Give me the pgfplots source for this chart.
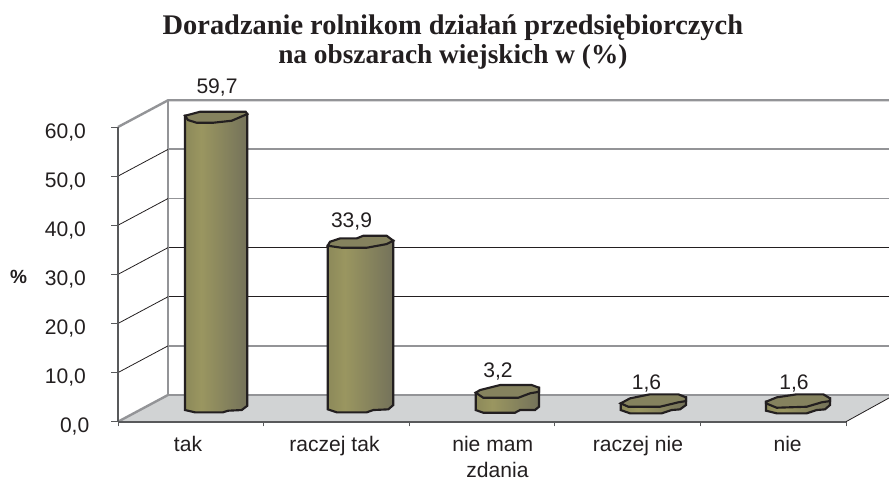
\documentclass[border=0pt]{standalone}
\usepackage{pgfplots}
\pgfplotsset{compat=1.18}
\usepackage{fontspec}
\setmainfont{Liberation Sans}
\newfontfamily\titlefont{Liberation Serif}
\definecolor{ink}{HTML}{231F20}
\definecolor{wallgray}{HTML}{939497}
\definecolor{floorgray}{HTML}{D1D3D4}
\definecolor{axisgray}{HTML}{58595B}
\definecolor{barA}{HTML}{8C895A}
\definecolor{barB}{HTML}{9A9660}
\definecolor{barC}{HTML}{74725A}
\definecolor{capfill}{HTML}{85825E}
\pgfdeclarehorizontalshading{barshade}{100bp}{color(0bp)=(barA);color(25bp)=(barA);color(38bp)=(barB);color(75bp)=(barC);color(100bp)=(barC)}
\begin{document}
\begin{tikzpicture}
\useasboundingbox (0,0) rectangle (666.75pt,360pt);
\begin{axis}[
  at={(88.5pt,43.725pt)}, anchor=south west,
  scale only axis, width=546pt, height=221.025pt,
  xmin=118, xmax=846, ymin=0, ymax=60,
  clip=false, axis on top,
  axis x line*=bottom, axis y line*=left,
  axis line style={draw=axisgray, line width=1pt},
  x axis line style={draw=axisgray, line width=1.5pt},
  y axis line style={draw=axisgray, line width=1.1pt},
  tick align=outside,
  xtick={188,334.5,492.7,638,787.6},
  xticklabels={tak,raczej tak,{nie mam\\\hspace*{7.2pt}zdania},raczej nie,nie},
  minor xtick={118,263.6,409.2,554.8,700.4,846},
  major x tick style={draw=none},
  minor tick length=3.5pt,
  minor x tick style={draw=axisgray, line width=0.7pt},
  ytick={0,10,...,60},
  yticklabels={{0,0\hspace*{-2.5pt}},{10,0},{20,0},{30,0},{40,0},{50,0},{60,0}},
  major tick length=5pt,
  y tick style={draw=axisgray, line width=0.7pt},
  tick label style={font=\fontsize{15.8}{19.4}\selectfont, text=ink},
  xticklabel style={align=center, yshift=-5.6pt, anchor=north, inner ysep=0pt},
  yticklabel style={xshift=-15.5pt, yshift=-3.9pt},
  ylabel={\textbf{\%}},
  ylabel style={rotate=-90, at={(axis description cs:-0.1367,0.491)}, anchor=center,
    font=\fontsize{14.3}{15}\selectfont, text=ink},
  title={Doradzanie rolnikom działań przedsiębiorczych\\[0.45pt]{\fontsize{20.5}{21}\selectfont na obszarach wiejskich w (\%)}},
  title style={at={(axis description cs:0.460,1.261)}, anchor=center, align=center,
    font=\titlefont\bfseries\fontsize{21.3}{21.3}\selectfont, text=ink},
]
% floor
\addplot[fill=floorgray, draw=none] coordinates {(118,0)(168,5.44)(889,5.44)(889,4.83)(846,0)} --cycle;
% back wall gridlines
\addplot[draw=wallgray, line width=1.7pt] coordinates {(168,15.44)(889,15.44)};
\addplot[draw=ink, line width=0.6pt] coordinates {(168,25.44)(889,25.44)};
\addplot[draw=ink, line width=0.6pt] coordinates {(168,35.44)(889,35.44)};
\addplot[draw=wallgray, line width=1.4pt] coordinates {(168,45.44)(889,45.44)};
\addplot[draw=wallgray, line width=1.6pt] coordinates {(168,55.44)(889,55.44)};
\addplot[draw=wallgray, line width=1.8pt] coordinates {(118,60)(168,65.44)(889,65.44)};
\addplot[draw=wallgray, line width=1.8pt] coordinates {(168,65.44)(168,5.44)(889,5.44)};
\addplot[draw=wallgray, line width=1.8pt] coordinates {(118,0)(168,5.44)};
% side wall
\addplot[draw=ink, line width=0.6pt] coordinates {(118,10)(168,15.44)};
\addplot[draw=ink, line width=0.6pt] coordinates {(118,20)(168,25.44)};
\addplot[draw=ink, line width=0.6pt] coordinates {(118,30)(168,35.44)};
\addplot[draw=ink, line width=0.6pt] coordinates {(118,40)(168,45.44)};
\addplot[draw=ink, line width=0.6pt] coordinates {(118,50)(168,55.44)};
\addplot[draw=ink, line width=0.6pt] coordinates {(846,0)(889,4.83)};
% bars, drawn on the floor's middle line
\begin{scope}[yshift=4.45pt]
\addplot[shade, shading=barshade, draw=ink, line width=1.6pt] coordinates {(185,59.87)(185,-0.04)(195,-0.51)(223,-0.51)(228,-0.18)(241.7,-0.04)(247.3,0.83)(247.3,60.22)} --cycle;
\addplot[fill=capfill, draw=ink, line width=1.6pt] coordinates {(185,59.87)(200,60.69)(245.7,60.69)(247.3,60.22)(231.7,58.86)(213,58.45)(196.7,58.45)(188,59.0)} --cycle;
\addplot[shade, shading=barshade, draw=ink, line width=1.6pt] coordinates {(327.7,33.41)(327.7,0.1)(336.7,-0.51)(366.7,-0.51)(373.3,-0.04)(388.3,0.1)(393.3,0.98)(393.3,34.43)} --cycle;
\addplot[fill=capfill, draw=ink, line width=1.6pt] coordinates {(327.7,33.41)(330,34.22)(340,34.91)(356.7,34.91)(363.3,35.44)(386.7,35.44)(393.3,34.43)(386.7,33.75)(366.7,33.0)(341.7,33.0)} --cycle;
\addplot[shade, shading=barshade, draw=ink, line width=1.6pt] coordinates {(475.7,3.48)(475.7,-0.04)(483.3,-0.59)(515,-0.59)(520,-0.04)(535,-0.04)(539,0.63)(539,4.5)} --cycle;
\addplot[fill=capfill, draw=ink, line width=1.6pt] coordinates {(475.7,3.48)(480,4.03)(500,5.05)(531.7,5.05)(539,4.5)(539,3.68)(530,3.36)(518.3,2.46)(483.3,2.46)} --cycle;
\addplot[shade, shading=barshade, draw=ink, line width=1.6pt] coordinates {(620.7,1.32)(620.7,-0.04)(630,-0.71)(661.7,-0.71)(671.7,-0.04)(680,0.1)(686,0.98)(686,2.54)} --cycle;
\addplot[fill=capfill, draw=ink, line width=1.6pt] coordinates {(620.7,1.32)(630,2.34)(650,3.16)(678.3,3.16)(686,2.54)(686,1.79)(678.3,1.53)(660,0.63)(628.3,0.63)} --cycle;
\addplot[shade, shading=barshade, draw=ink, line width=1.6pt] coordinates {(766,1.65)(766,-0.18)(776.7,-0.71)(806.7,-0.71)(816.7,-0.04)(825,0.1)(830,0.98)(830,2.34)} --cycle;
\addplot[fill=capfill, draw=ink, line width=1.6pt] coordinates {(766,1.65)(776.7,2.54)(796.7,3.16)(823.3,3.16)(830,2.34)(830,1.79)(821.7,1.53)(806.7,0.63)(776.7,0.43)(766,1.32)} --cycle;
\end{scope}
% data labels
\node[font=\fontsize{15.8}{19}\selectfont, text=ink] at (axis cs:217,68.1) {59,7};
\node[font=\fontsize{15.8}{19}\selectfont, text=ink] at (axis cs:351.5,40.8) {33,9};
\node[font=\fontsize{15.8}{19}\selectfont, text=ink] at (axis cs:498,10.2) {3,2};
\node[font=\fontsize{15.8}{19}\selectfont, text=ink] at (axis cs:646.5,7.7) {1,6};
\node[font=\fontsize{15.8}{19}\selectfont, text=ink] at (axis cs:794,7.7) {1,6};
\end{axis}
\end{tikzpicture}
\end{document}
